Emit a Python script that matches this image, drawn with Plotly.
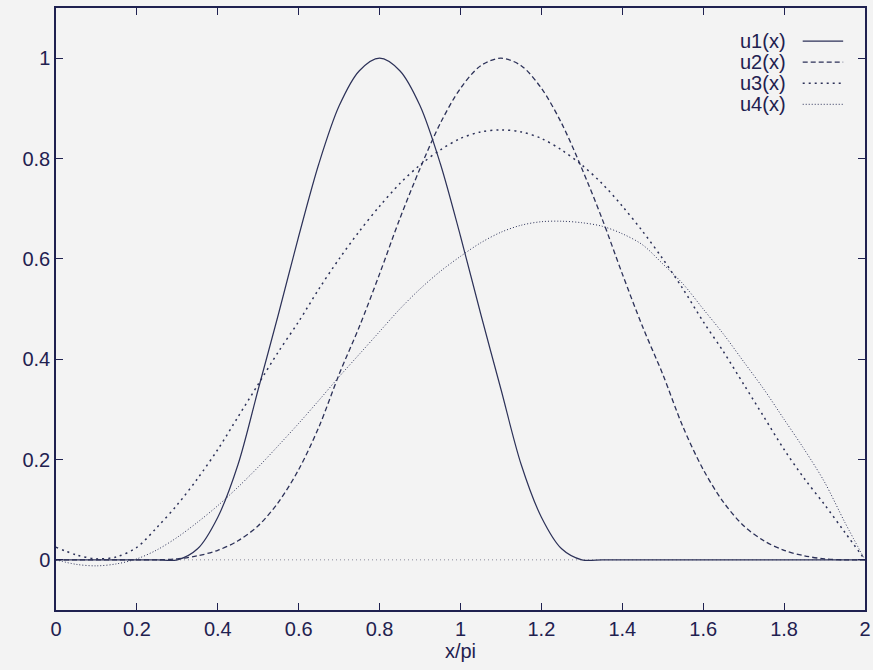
import plotly.graph_objects as go

# Sample positions (in units of pi)
x = [round(0.05 * i, 2) for i in range(41)]

u1 = [0, 0, 0, 0, 0, 0, 0, 0.022, 0.085, 0.19, 0.34,
      0.49, 0.645, 0.79, 0.905, 0.975, 1.0, 0.975, 0.905, 0.79, 0.645,
      0.49, 0.34, 0.19, 0.085, 0.022, 0, 0, 0, 0, 0,
      0, 0, 0, 0, 0, 0, 0, 0, 0, 0]

u2 = [0, 0, 0, 0, 0, 0, 0.002, 0.008, 0.019, 0.038, 0.068,
      0.115, 0.18, 0.265, 0.37, 0.465, 0.57, 0.68, 0.78, 0.87, 0.94,
      0.985, 1.0, 0.985, 0.94, 0.87, 0.78, 0.68, 0.57, 0.465, 0.37,
      0.265, 0.18, 0.115, 0.068, 0.038, 0.019, 0.008, 0.002, 0, 0]

u3 = [0.025, 0.01, 0.002, 0.006, 0.025, 0.065, 0.11, 0.162, 0.22, 0.285, 0.35,
      0.415, 0.475, 0.54, 0.6, 0.655, 0.705, 0.75, 0.787, 0.817, 0.84,
      0.853, 0.857, 0.853, 0.84, 0.817, 0.787, 0.75, 0.705, 0.655, 0.6,
      0.54, 0.475, 0.415, 0.35, 0.285, 0.22, 0.162, 0.11, 0.055, 0.0]

u4 = [0, -0.009, -0.012, -0.008, 0.002, 0.02, 0.045, 0.075, 0.108, 0.145, 0.185,
      0.228, 0.272, 0.318, 0.365, 0.41, 0.455, 0.5, 0.54, 0.575, 0.605,
      0.632, 0.653, 0.667, 0.674, 0.675, 0.672, 0.665, 0.65, 0.628, 0.59,
      0.55, 0.5, 0.45, 0.395, 0.34, 0.28, 0.22, 0.155, 0.075, 0]

names = ["u1(x)", "u2(x)", "u3(x)", "u4(x)"]
series = [u1, u2, u3, u4]
dashes = ["solid", "5px,3px", "2px,4px", "1px,2px"]
widths = [1.2, 1.3, 1.5, 1.0]

x_ticks = [0, 0.2, 0.4, 0.6, 0.8, 1, 1.2, 1.4, 1.6, 1.8, 2]
y_ticks = [0, 0.2, 0.4, 0.6, 0.8, 1]

ink = "#1f2150"
curve = "#2c3158"
bg = "#f3f3f3"
font = "Liberation Sans, Arial, sans-serif"

fig = go.Figure()
for name, ys, dash, w in zip(names, series, dashes, widths):
    fig.add_trace(go.Scatter(x=x, y=ys, mode="lines", name=name,
                             line=dict(color=curve, width=w, dash=dash,
                                       shape="spline", smoothing=0.9),
                             showlegend=False))

# dotted zero axis
fig.add_shape(type="line", xref="x", yref="y", x0=x[0], x1=x[-1], y0=0, y1=0,
              line=dict(color="#8a8a9a", width=1, dash="1px,3px"), layer="below")

# key in the upper right: label on the left, line sample on the right
row_y = [0.945, 0.91, 0.875, 0.84]
for name, dash, w, ry in zip(names, dashes, widths, row_y):
    fig.add_annotation(xref="paper", yref="paper", x=0.905, y=ry, text=name,
                       showarrow=False, xanchor="right", yanchor="middle",
                       font=dict(family=font, size=20, color=ink))
    fig.add_shape(type="line", xref="paper", yref="paper",
                  x0=0.923, x1=0.973, y0=ry, y1=ry,
                  line=dict(color=curve, width=w, dash=dash))

axis_common = dict(showgrid=False, zeroline=False, showline=True, linecolor=ink,
                   linewidth=1.5, mirror="ticks", ticks="inside", ticklen=7,
                   tickcolor=ink, tickwidth=1.2, automargin=False,
                   tickfont=dict(family=font, size=20, color=ink))

fig.update_layout(
    width=873, height=670,
    margin=dict(l=56, r=8, t=8, b=60),
    paper_bgcolor=bg, plot_bgcolor=bg,
    xaxis=dict(range=[0, 2], tickvals=x_ticks,
               title=dict(text="x/pi", font=dict(family=font, size=20, color=ink),
                          standoff=4),
               **axis_common),
    yaxis=dict(range=[-0.1, 1.1], tickvals=y_ticks, **axis_common),
)

fig.write_html("out.html")
